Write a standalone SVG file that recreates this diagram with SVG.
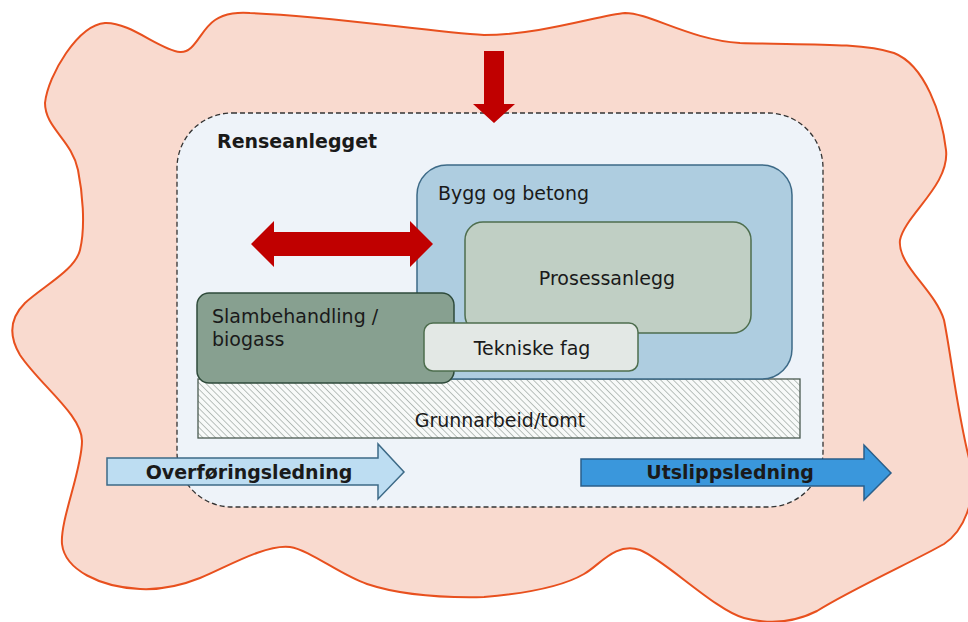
<svg xmlns="http://www.w3.org/2000/svg" width="968" height="622" viewBox="0 0 968 622">
<defs>
<pattern id="hatch" patternUnits="userSpaceOnUse" width="4.5" height="4.5" patternTransform="rotate(-45)">
<rect width="4.5" height="4.5" fill="#F8FAF9"/>
<line x1="0" y1="0" x2="0" y2="4.5" stroke="#AEB6B2" stroke-width="1.7"/>
</pattern>
<style>
.t{font-family:"DejaVu Sans",Verdana,sans-serif;font-size:19px;fill:#1a1a1a}
.b{font-weight:bold}
.red{fill:#C00000}
</style>
</defs>
<rect width="968" height="622" fill="#ffffff"/>
<g id="omgivelser">
<path d="M45,103 C48,75 78,25 105,23 C130,22 160,50 180,52 C195,53 200,30 215,20 C225,13 240,12 250,13 C330,16 430,32 484,35 C540,35 600,15 625,13 C650,13 690,40 740,43 C800,45 860,42 894,53 C925,65 942,115 946,150 C950,185 905,215 900,240 C897,265 935,290 944,320 C952,360 958,420 972,470 C975,500 965,530 944,544 C920,558 850,590 817,611 C795,622 770,625 744,618 C715,610 665,560 640,550 C615,542 600,565 584,574 C560,588 520,594 484,597 C440,598 400,595 367,584 C340,575 310,550 290,547 C265,544 225,568 200,578 C180,586 160,590 140,589 C100,587 65,570 62,544 C60,520 82,470 82,441 C82,415 40,385 20,355 C8,335 10,318 25,303 C45,285 75,270 80,250 C86,225 82,190 78,170 C72,140 45,128 45,103 Z" fill="#F9DACF" stroke="#E8501E" stroke-width="2"/>
</g>
<g id="renseanlegget">
<rect x="177" y="113" width="646" height="394" rx="55" fill="#EEF3F9" stroke="#333333" stroke-width="1.3" stroke-dasharray="5,3"/>
<text class="t b" x="217" y="148">Renseanlegget</text>
</g>
<g id="grunnarbeid">
<rect x="198" y="379" width="602" height="59" fill="url(#hatch)" stroke="#4A5A50" stroke-width="1.3"/>
<text class="t" x="500" y="427" text-anchor="middle">Grunnarbeid/tomt</text>
</g>
<g id="bygg">
<rect x="417" y="165" width="375" height="214" rx="30" fill="#AECDE0" stroke="#3D6A87" stroke-width="1.5"/>
<text class="t" x="438" y="200">Bygg og betong</text>
</g>
<g id="prosessanlegg">
<rect x="465" y="222" width="286" height="111" rx="18" fill="#C0CFC4" stroke="#4E6E4E" stroke-width="1.5"/>
<text class="t" x="607" y="285" text-anchor="middle">Prosessanlegg</text>
</g>
<g id="slambehandling">
<rect x="197" y="293" width="257" height="90" rx="12" fill="#87A090" stroke="#2E4A3A" stroke-width="1.5"/>
<text class="t" x="212" y="323">Slambehandling /</text>
<text class="t" x="212" y="346">biogass</text>
</g>
<g id="tekniske">
<rect x="424" y="323" width="214" height="48" rx="9" fill="#E3E8E5" stroke="#4E6E4E" stroke-width="1.5"/>
<text class="t" x="532" y="355" text-anchor="middle">Tekniske fag</text>
</g>
<g id="connectors">
<polygon class="red" points="484,51 504,51 504,104 515,104 494,123 473,104 484,104"/>
<polygon class="red" points="251,244 274,221 274,232 410,232 410,221 433,244 410,267 410,256 274,256 274,267"/>
<g id="overforingsledning">
<polygon points="107,458 378,458 378,444 404,472 378,499 378,485 107,485" fill="#BDDDF2" stroke="#3D6A87" stroke-width="1.5"/>
<text class="t b" x="249" y="479" text-anchor="middle">Overføringsledning</text>
</g>
<g id="utslippsledning">
<polygon points="581,459 864,459 864,445 891,473 864,500 864,486 581,486" fill="#3A97DC" stroke="#2A5F8A" stroke-width="1.5"/>
<text class="t b" x="730" y="479" text-anchor="middle">Utslippsledning</text>
</g>
</g>
</svg>
